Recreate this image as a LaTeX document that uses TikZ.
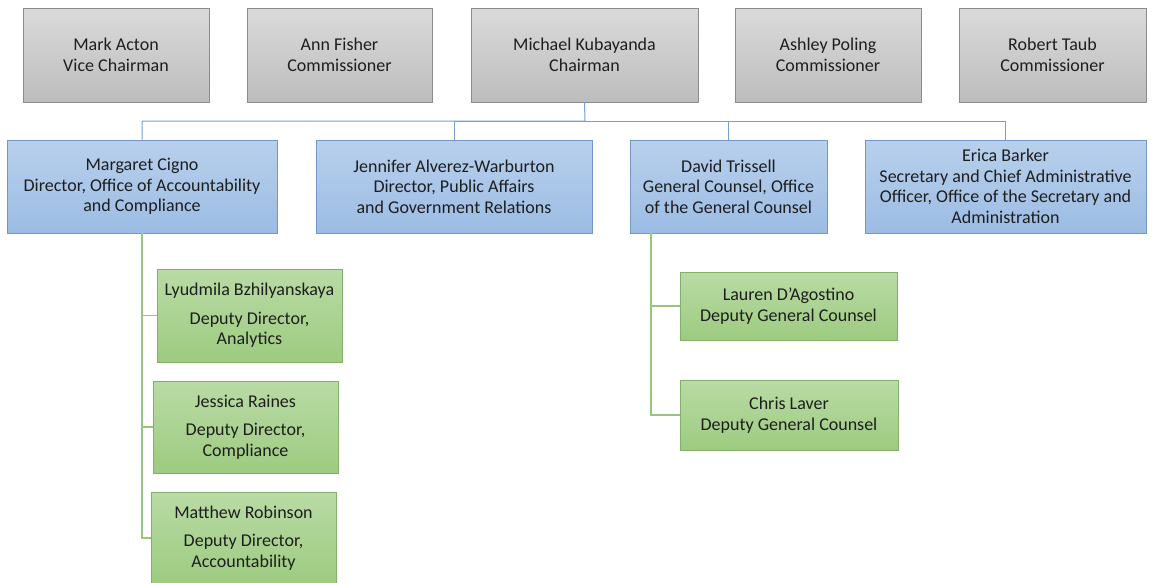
\documentclass[tikz,border=0pt]{standalone}
\usepackage{fontspec}
\setmainfont{Carlito}
\definecolor{txt}{HTML}{1E1E1E}
\definecolor{grayT}{HTML}{DADADA}
\definecolor{grayB}{HTML}{BDBDBD}
\definecolor{grayD}{HTML}{8C8C8C}
\definecolor{blueT}{HTML}{B8D0EC}
\definecolor{blueB}{HTML}{9CBCE4}
\definecolor{blueD}{HTML}{7297C8}
\definecolor{blueL}{HTML}{6FA0D8}
\definecolor{greenT}{HTML}{B9DBA5}
\definecolor{greenB}{HTML}{9DCB80}
\definecolor{greenD}{HTML}{86AE6B}
\definecolor{greenL}{HTML}{98C67E}
\tikzset{
  box/.style={rectangle, align=center, text=txt, inner sep=2pt,
    font=\fontsize{18}{20.5}\selectfont, line width=0.9pt},
  graybox/.style={box, draw=grayD, top color=grayT, bottom color=grayB},
  bluebox/.style={box, draw=blueD, top color=blueT, bottom color=blueB},
  greenbox/.style={box, draw=greenD, top color=greenT, bottom color=greenB},
  blueline/.style={draw=blueL, line width=1pt},
  greenline/.style={draw=greenL, line width=1.3pt},
}
\begin{document}
\begin{tikzpicture}[x=1pt,y=-1pt]
\useasboundingbox[fill=white] (0,0) rectangle (1154,582);
% top row
\node[graybox, minimum width=186, minimum height=94] (MA) at (116,55) {Mark Acton\\Vice Chairman};
\node[graybox, minimum width=185, minimum height=94] (AF) at (339.5,55) {Ann Fisher\\Commissioner};
\node[graybox, minimum width=227, minimum height=94] (MK) at (584.5,55) {Michael Kubayanda\\Chairman};
\node[graybox, minimum width=186, minimum height=94] (AP) at (828,55) {Ashley Poling\\Commissioner};
\node[graybox, minimum width=187, minimum height=94] (RT) at (1052.5,55) {Robert Taub\\Commissioner};
% second row
\node[bluebox, minimum width=270, minimum height=93] (MC) at (142,186.5) {Margaret Cigno\\Director, Office of Accountability\\and Compliance};
\node[bluebox, minimum width=276, minimum height=93] (JA) at (454,186.5) {Jennifer Alverez-Warburton\\Director, Public Affairs\\and Government Relations};
\node[bluebox, minimum width=197, minimum height=93] (DT) at (728.5,186.5) {David Trissell\\General Counsel, Office\\of the General Counsel};
\node[bluebox, minimum width=281, minimum height=93] (EB) at (1005.5,186.5) {Erica Barker\\Secretary and Chief Administrative\\Officer, Office of the Secretary and\\Administration};
% third row
\node[greenbox, minimum width=185, minimum height=93] (LB) at (249.5,315.5) {Lyudmila Bzhilyanskaya\\[8pt]Deputy Director,\\Analytics};
\node[greenbox, minimum width=185, minimum height=92] (JR) at (245.5,427) {Jessica Raines\\[8pt]Deputy Director,\\Compliance};
\node[greenbox, minimum width=185, minimum height=92] (MR) at (243.5,538) {Matthew Robinson\\[8pt]Deputy Director,\\Accountability};
\node[greenbox, minimum width=217, minimum height=68] (LD) at (788.5,306) {Lauren D'Agostino\\Deputy General Counsel};
\node[greenbox, minimum width=218, minimum height=70] (CL) at (789,415) {Chris Laver\\Deputy General Counsel};
% connectors
\coordinate (bus) at (585,121);
\coordinate (dtl) at (651,233);
\draw[blueline] (MK.south) -- (bus) -| (MC.north);
\draw[blueline] (bus) -| (JA.north);
\draw[blueline] (bus) -| (DT.north);
\draw[blueline] (bus) -| (EB.north);
\draw[greenline] (MC.south) |- (LB.west);
\draw[greenline] (MC.south) |- (JR.west);
\draw[greenline] (MC.south) |- (MR.west);
\draw[greenline] (dtl) |- (LD.west);
\draw[greenline] (dtl) |- (CL.west);
\end{tikzpicture}
\end{document}
